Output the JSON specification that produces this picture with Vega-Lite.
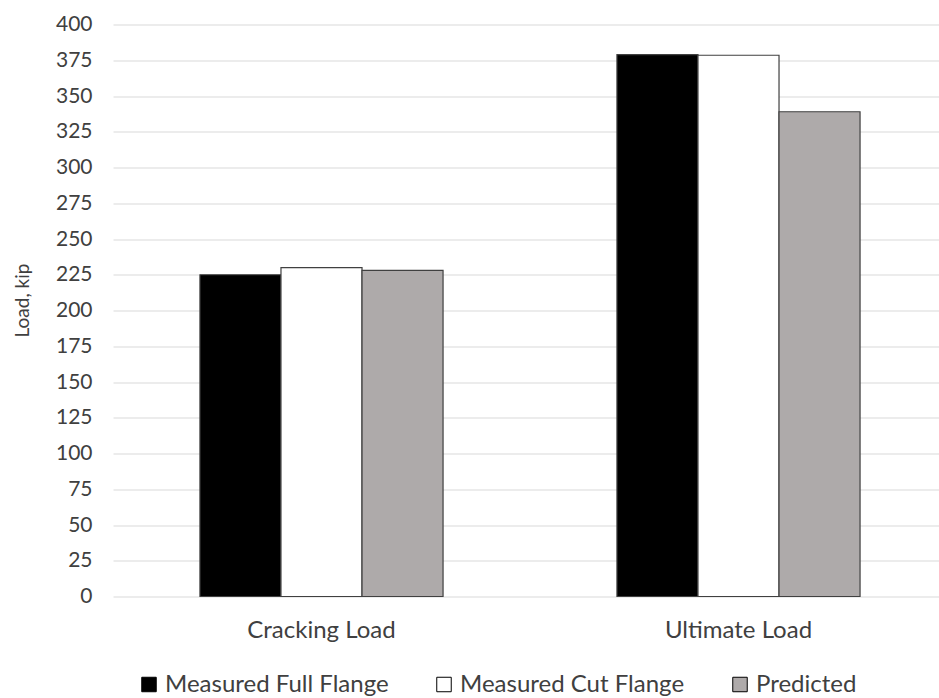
{
  "$schema": "https://vega.github.io/schema/vega-lite/v6.json",
  "autosize": {"type": "none"},
  "width": 826,
  "height": 572,
  "padding": {"left": 113, "top": 24.5, "right": 0, "bottom": 101.5},
  "background": "white",
  "config": {
    "view": {"stroke": null},
    "font": "Lato",
    "axis": {"labelColor": "#404040", "titleColor": "#404040", "labelFont": "Lato", "titleFont": "Lato"},
    "legend": {"labelColor": "#404040", "labelFont": "Lato"}
  },
  "data": {
    "values": [
      {"category": "Cracking Load", "series": "Measured Full Flange", "value": 225},
      {"category": "Cracking Load", "series": "Measured Cut Flange", "value": 230},
      {"category": "Cracking Load", "series": "Predicted", "value": 228},
      {"category": "Ultimate Load", "series": "Measured Full Flange", "value": 379},
      {"category": "Ultimate Load", "series": "Measured Cut Flange", "value": 378.5},
      {"category": "Ultimate Load", "series": "Predicted", "value": 339}
    ]
  },
  "mark": {"type": "bar", "stroke": "#404040", "strokeWidth": 1.2},
  "encoding": {
    "x": {
      "field": "category",
      "type": "nominal",
      "sort": ["Cracking Load", "Ultimate Load"],
      "scale": {"range": [0, 834], "paddingInner": 0.417, "paddingOuter": 0.2085},
      "axis": {
        "title": null,
        "labelAngle": 0,
        "labelFontSize": 24,
        "labelPadding": 22,
        "ticks": false,
        "domain": false,
        "grid": false
      }
    },
    "xOffset": {
      "field": "series",
      "type": "nominal",
      "sort": ["Measured Full Flange", "Measured Cut Flange", "Predicted"],
      "scale": {"paddingInner": 0, "paddingOuter": 0}
    },
    "y": {
      "field": "value",
      "type": "quantitative",
      "scale": {"domain": [0, 400], "nice": false, "zero": true},
      "axis": {
        "title": "Load, kip",
        "titleFontSize": 19,
        "titleFontWeight": "normal",
        "titleAngle": -90,
        "titleX": -91,
        "titleY": 275.5,
        "titleAlign": "center",
        "titleBaseline": "middle",
        "values": [0, 25, 50, 75, 100, 125, 150, 175, 200, 225, 250, 275, 300, 325, 350, 375, 400],
        "format": "d",
        "labelFontSize": 21,
        "labelPadding": 21,
        "ticks": false,
        "domain": false,
        "grid": true,
        "gridColor": "#D9D9D9",
        "gridWidth": 1
      }
    },
    "color": {
      "field": "series",
      "type": "nominal",
      "sort": ["Measured Full Flange", "Measured Cut Flange", "Predicted"],
      "scale": {
        "domain": ["Measured Full Flange", "Measured Cut Flange", "Predicted"],
        "range": ["#000000", "#FFFFFF", "#AEAAAA"]
      },
      "legend": {
        "title": null,
        "orient": "none",
        "direction": "horizontal",
        "legendX": 24,
        "legendY": 648,
        "symbolType": "square",
        "symbolSize": 210,
        "symbolStrokeColor": "#000000",
        "symbolStrokeWidth": 1,
        "symbolOpacity": 1,
        "labelFontSize": 24,
        "labelLimit": 0,
        "labelOffset": 4,
        "columnPadding": 43
      }
    }
  }
}
